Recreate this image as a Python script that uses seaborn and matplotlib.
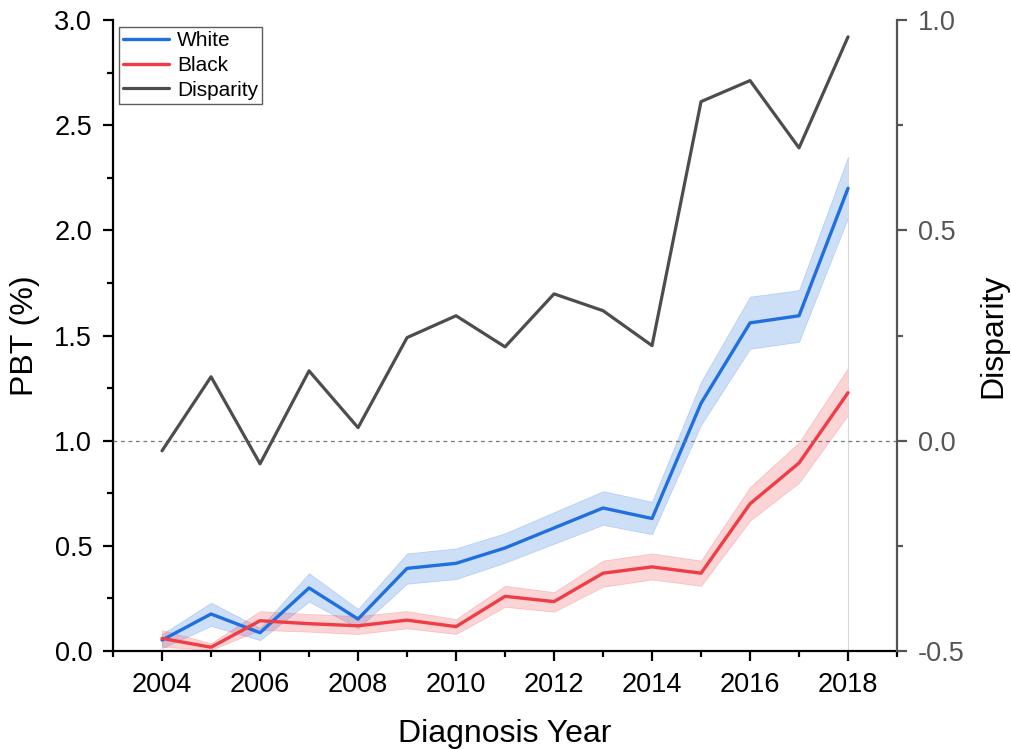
import numpy as np
import pandas as pd
import matplotlib
matplotlib.use('Agg')
import matplotlib.pyplot as plt
import seaborn as sns
from matplotlib.ticker import MultipleLocator, FormatStrFormatter

# data
years = [2004, 2005, 2006, 2007, 2008, 2009, 2010, 2011, 2012, 2013, 2014, 2015, 2016, 2017, 2018]
white = [0.052, 0.176, 0.087, 0.30, 0.152, 0.393, 0.417, 0.49, 0.585, 0.68, 0.63, 1.178, 1.56, 1.594, 2.20]
white_lo = [0.014, 0.119, 0.052, 0.235, 0.108, 0.32, 0.342, 0.42, 0.51, 0.60, 0.555, 1.075, 1.437, 1.47, 2.06]
white_hi = [0.08, 0.23, 0.11, 0.37, 0.20, 0.464, 0.488, 0.56, 0.66, 0.76, 0.71, 1.28, 1.685, 1.716, 2.35]
black = [0.060, 0.018, 0.144, 0.13, 0.12, 0.147, 0.116, 0.26, 0.235, 0.37, 0.40, 0.37, 0.70, 0.894, 1.228]
black_lo = [0.02, 0.005, 0.10, 0.092, 0.081, 0.108, 0.081, 0.21, 0.187, 0.306, 0.34, 0.31, 0.62, 0.80, 1.122]
black_hi = [0.10, 0.037, 0.19, 0.176, 0.166, 0.19, 0.152, 0.31, 0.28, 0.43, 0.464, 0.43, 0.78, 0.992, 1.346]
disparity = [-0.024, 0.152, -0.055, 0.166, 0.031, 0.245, 0.297, 0.223, 0.349, 0.309, 0.226, 0.806, 0.856, 0.696, 0.960]

blue = '#1f6fdf'
red = '#ef3d45'
grey = '#4d4d4d'

sns.set_style('ticks')
plt.rcParams['font.family'] = ['Liberation Sans', 'DejaVu Sans']
plt.rcParams['text.color'] = 'black'
plt.rcParams['axes.labelcolor'] = 'black'

df = pd.DataFrame({
    'year': years * 2,
    'pbt': white + black,
    'group': ['White'] * len(years) + ['Black'] * len(years),
})
df_disp = pd.DataFrame({'year': years, 'disparity': disparity, 'group': 'Disparity'})

fig = plt.figure(figsize=(10.12, 7.49), dpi=100)
ax = fig.add_axes([0.1117, 0.1308, 0.7747, 0.8425])

# confidence bands
ax.fill_between(years, white_lo, white_hi, facecolor=blue, alpha=0.22,
                edgecolor=blue, linewidth=0.6)
ax.fill_between(years, black_lo, black_hi, facecolor=red, alpha=0.22,
                edgecolor=red, linewidth=0.6)
ax.vlines(years[-1], 0, white_hi[-1], color='#d9d9d9', linewidth=0.8, zorder=1)

sns.lineplot(data=df, x='year', y='pbt', hue='group', palette={'White': blue, 'Black': red},
             linewidth=2.4, ax=ax, legend=False)

ax2 = ax.twinx()
ax2.axhline(0, color='#777777', linestyle=(0, (3, 3)), linewidth=0.9)
sns.lineplot(data=df_disp, x='year', y='disparity', color=grey, linewidth=2.3, ax=ax2, legend=False)

ax.set_xlim(2003, 2019)
ax.set_ylim(0, 3.0)
ax2.set_ylim(-0.5, 1.0)

ax.xaxis.set_major_locator(MultipleLocator(2))
ax.xaxis.set_minor_locator(MultipleLocator(1))
ax.yaxis.set_major_locator(MultipleLocator(0.5))
ax.yaxis.set_minor_locator(MultipleLocator(0.25))
ax2.yaxis.set_major_locator(MultipleLocator(0.5))
ax2.yaxis.set_minor_locator(MultipleLocator(0.25))
ax.yaxis.set_major_formatter(FormatStrFormatter('%.1f'))
ax2.yaxis.set_major_formatter(FormatStrFormatter('%.1f'))

for a in (ax, ax2):
    a.spines['top'].set_visible(False)
    for s in a.spines.values():
        s.set_linewidth(1.6)
        s.set_color('black')
ax.spines['right'].set_visible(False)
ax2.spines['left'].set_visible(False)
ax2.spines['bottom'].set_visible(False)
ax2.spines['right'].set_color('#555555')

ax.tick_params(which='major', direction='out', length=7, width=1.6, labelsize=19.5, pad=8,
               colors='black')
ax.tick_params(which='minor', direction='out', length=4, width=1.6, colors='black')
ax2.tick_params(which='major', direction='out', length=7, width=1.6, labelsize=19.5,
                colors='#555555', pad=8)
ax2.tick_params(which='minor', direction='out', length=4, width=1.6, colors='#555555')

ax.set_xlabel('Diagnosis Year', fontsize=23, labelpad=15)
ax.set_ylabel('PBT (%)', fontsize=23, labelpad=10)
ax2.set_ylabel('Disparity', fontsize=23, labelpad=10)

handles = [ax.lines[0], ax.lines[1], ax2.lines[-1]]
leg = ax.legend(handles, ['White', 'Black', 'Disparity'], loc='upper left',
                bbox_to_anchor=(0.002, 0.995), fontsize=15, frameon=True, fancybox=False,
                handlelength=2.2, handletextpad=0.4, borderpad=0.2, labelspacing=0.27,
                borderaxespad=0.2)
leg.get_frame().set_edgecolor('#333333')
leg.get_frame().set_linewidth(1.0)
leg.set_zorder(10)

fig.savefig('out.png', dpi=100)
